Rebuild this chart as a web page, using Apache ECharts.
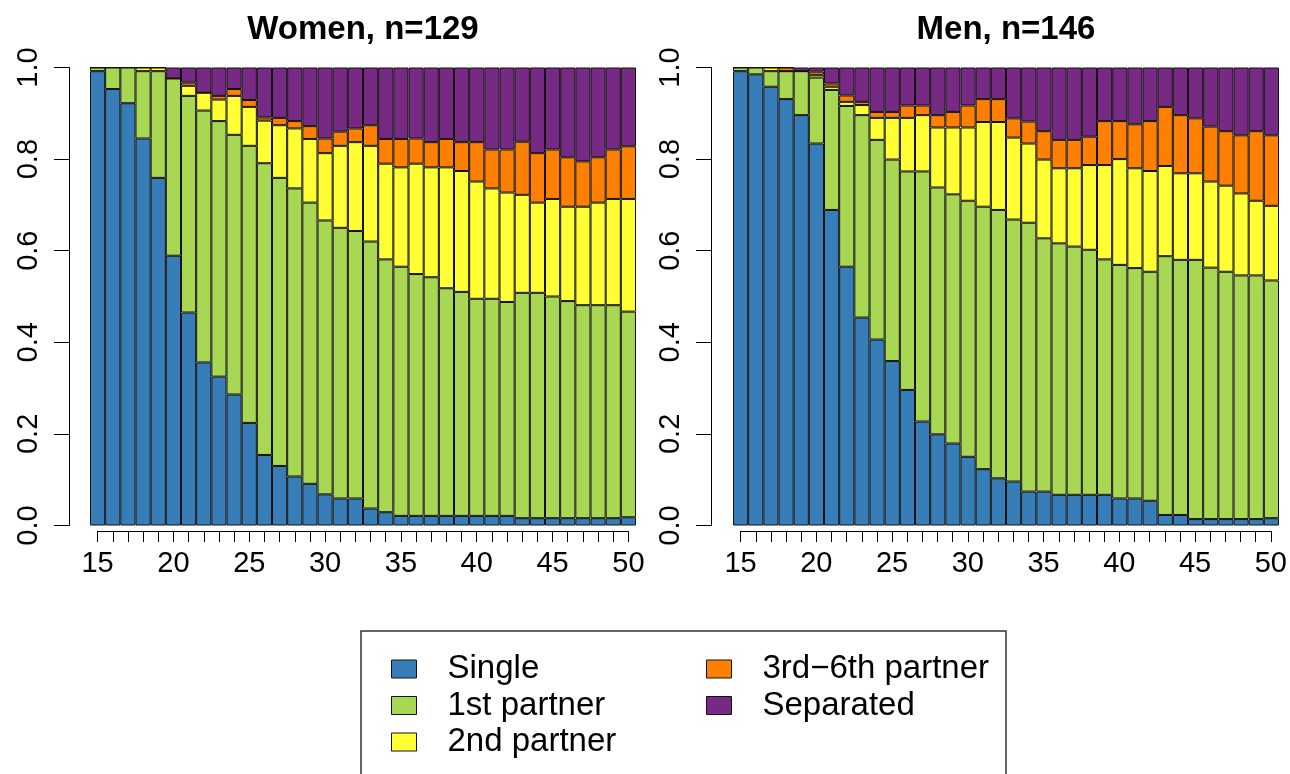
<!DOCTYPE html>
<html>
<head>
<meta charset="utf-8">
<script src="https://cdn.jsdelivr.net/npm/echarts@6/dist/echarts.min.js"></script>
<style>
  html, body { margin: 0; padding: 0; background: #fff; }
  #PartnerChart { width: 1290px; height: 774px; }
</style>
</head>
<body>
<div id="PartnerChart"></div>
<script>
// ages on the x axis
const ages = [15, 16, 17, 18, 19, 20, 21, 22, 23, 24, 25, 26, 27, 28, 29, 30, 31, 32,
  33, 34, 35, 36, 37, 38, 39, 40, 41, 42, 43, 44, 45, 46, 47, 48, 49, 50];
const ageTickLabels = [15, 20, 25, 30, 35, 40, 45, 50];
const shareTicks = [0, 0.2, 0.4, 0.6, 0.8, 1.0];

const statusNames = ["Single", "1st partner", "2nd partner", "3rd\u22126th partner", "Separated"];
const statusColors = ["#377EB8", "#A8D853", "#FFFF33", "#FF7F00", "#762A83"];

// Women, n=129 (share per status)
const womenSingle = [.992, .953, .922, .845, .759, .589, .465, .356, .325, .286, .224, .154, .130, .107, .091, .068, .059, .059,
  .037, .029, .021, .021, .021, .021, .021, .021, .021, .021, .016, .016, .016, .016, .016, .016, .016, .018];
const womenFirst = [.008, .047, .078, .147, .233, .387, .473, .550, .558, .567, .605, .637, .629, .629, .614, .598, .591, .584,
  .583, .552, .544, .528, .521, .497, .489, .474, .474, .467, .492, .492, .484, .474, .465, .465, .465, .449];
const womenSecond = [0, 0, 0, .008, .008, 0, .022, .039, .047, .085, .085, .093, .115, .131, .139, .147, .179, .194,
  .209, .209, .217, .241, .240, .264, .264, .256, .241, .239, .214, .197, .213, .206, .215, .224, .232, .246];
const womenThird = [0, 0, 0, 0, 0, 0, .007, 0, .008, .015, .015, .007, .016, .016, .028, .032, .031, .030,
  .045, .054, .062, .055, .055, .062, .063, .086, .085, .094, .116, .108, .108, .108, .099, .099, .108, .115];
const womenSeparated = [0, 0, 0, 0, 0, .024, .033, .055, .062, .047, .071, .109, .110, .117, .128, .155, .140, .133,
  .126, .156, .156, .155, .163, .156, .163, .163, .179, .179, .162, .187, .179, .196, .205, .196, .179, .172];

// Men, n=146
const menSingle = [.992, .985, .958, .931, .896, .834, .689, .565, .454, .406, .359, .296, .227, .199, .179, .150, .123, .103,
  .096, .074, .074, .067, .067, .067, .067, .059, .059, .054, .023, .023, .014, .014, .014, .014, .014, .016];
const menFirst = [.008, .015, .034, .061, .096, .144, .262, .351, .442, .436, .440, .477, .546, .539, .544, .559, .573, .586,
  .572, .587, .553, .549, .542, .535, .514, .510, .503, .500, .565, .557, .566, .549, .540, .532, .532, .519];
const menSecond = [0, 0, .008, 0, 0, .006, .007, .009, .022, .048, .091, .117, .123, .131, .146, .160, .185, .192,
  .179, .173, .172, .164, .171, .185, .206, .231, .218, .220, .197, .189, .189, .188, .188, .179, .163, .163];
const menThird = [0, 0, 0, .008, 0, .007, .007, .014, .007, .013, .013, .027, .021, .027, .034, .048, .050, .050,
  .042, .048, .062, .062, .062, .062, .096, .083, .096, .109, .129, .127, .120, .120, .119, .127, .152, .154];
const menSeparated = [0, 0, 0, 0, .008, .009, .035, .061, .075, .097, .097, .083, .083, .104, .097, .083, .069, .069,
  .111, .118, .139, .158, .158, .151, .117, .117, .124, .117, .086, .104, .111, .129, .139, .148, .139, .148];

const FONT = "'Liberation Sans', Arial, Helvetica, sans-serif";

const panelSeries = (idx, parts) => parts.map((values, i) => ({
  name: statusNames[i],
  type: "bar",
  stack: "panel" + idx,
  xAxisIndex: idx,
  yAxisIndex: idx,
  barWidth: "100%",
  barCategoryGap: 0,
  itemStyle: { color: statusColors[i], borderColor: "#111", borderWidth: 1 },
  emphasis: { disabled: true },
  data: values,
}));

const shareAxis = (idx, offset) => ({
  gridIndex: idx,
  type: "value",
  min: 0,
  max: 1,
  interval: 0.2,
  offset: offset,
  axisLine: { show: true, lineStyle: { color: "#000", width: 1 } },
  axisTick: { show: true, length: 15, lineStyle: { color: "#000", width: 1 } },
  axisLabel: {
    rotate: 90,
    margin: 26,
    fontSize: 29,
    color: "#000",
    fontFamily: FONT,
    formatter: (v) => shareTicks.some((t) => Math.abs(t - v) < 1e-9) ? v.toFixed(1) : "",
  },
  splitLine: { show: false },
});

const ageAxis = (idx) => ({
  gridIndex: idx,
  type: "value",
  min: 15,
  max: 50,
  interval: 1,
  axisLine: { show: true, lineStyle: { color: "#000", width: 1 } },
  axisTick: { show: true, length: 11, lineStyle: { color: "#000", width: 1 } },
  axisLabel: {
    margin: 18,
    fontSize: 29,
    color: "#000",
    fontFamily: FONT,
    formatter: (v) => ageTickLabels.includes(v) ? String(v) : "",
  },
  splitLine: { show: false },
});

const legendBase = {
  orient: "vertical",
  padding: 0,
  height: 118,
  itemWidth: 25,
  itemHeight: 18,
  itemGap: 3.5,
  icon: "rect",
  selectedMode: false,
  itemStyle: { borderColor: "#111", borderWidth: 1 },
  textStyle: { fontSize: 33, color: "#000", fontFamily: FONT, padding: [0, 0, 0, 26] },
};

const chart = echarts.init(document.getElementById("PartnerChart"));

const option = {
  animation: false,
  title: [
    { text: "Women, n=129", left: 363, top: 13, textAlign: "center", padding: 0,
      textStyle: { fontSize: 33, fontWeight: "bold", color: "#000", fontFamily: FONT } },
    { text: "Men, n=146", left: 1006, top: 13, textAlign: "center", padding: 0,
      textStyle: { fontSize: 33, fontWeight: "bold", color: "#000", fontFamily: FONT } },
  ],
  legend: [
    Object.assign({}, legendBase, { left: 391, top: 652.5, data: statusNames.slice(0, 3) }),
    Object.assign({}, legendBase, { left: 706, top: 652.5, data: statusNames.slice(3) }),
  ],
  graphic: [
    { type: "rect", shape: { x: 361, y: 631, width: 645, height: 180 },
      style: { fill: null, stroke: "#333", lineWidth: 1.5 }, silent: true },
  ],
  grid: [
    { left: 90, top: 67.5, width: 546, height: 458 },
    { left: 733, top: 67.5, width: 546, height: 458 },
    { left: 97.6, top: 67.5, width: 530.8, height: 463.5 },
    { left: 740.6, top: 67.5, width: 530.8, height: 463.5 },
  ],
  xAxis: [
    { gridIndex: 0, type: "category", data: ages, show: false },
    { gridIndex: 1, type: "category", data: ages, show: false },
    ageAxis(2),
    ageAxis(3),
  ],
  yAxis: [
    shareAxis(0, 21),
    shareAxis(1, 22),
    { gridIndex: 2, type: "value", min: 0, max: 1, show: false },
    { gridIndex: 3, type: "value", min: 0, max: 1, show: false },
  ],
  series: [
    ...panelSeries(0, [womenSingle, womenFirst, womenSecond, womenThird, womenSeparated]),
    ...panelSeries(1, [menSingle, menFirst, menSecond, menThird, menSeparated]),
  ],
};

chart.setOption(option);
</script>
</body>
</html>
